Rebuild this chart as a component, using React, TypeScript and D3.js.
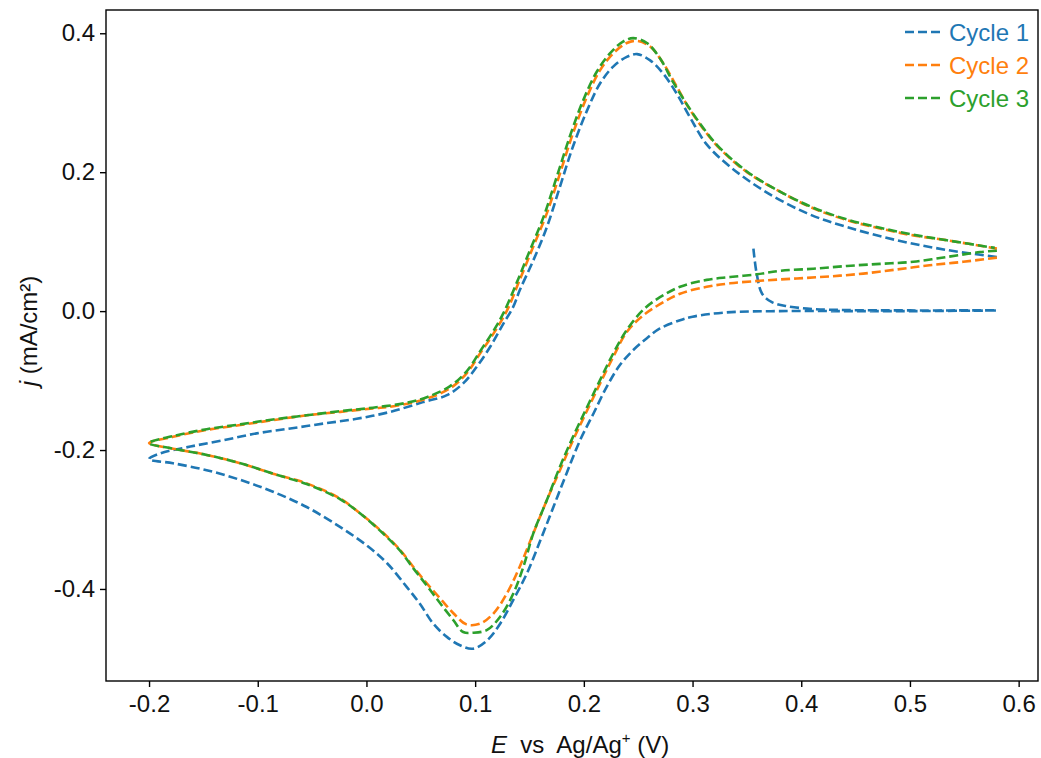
import React, { useEffect, useRef } from "react";
import * as d3 from "d3";

// cyclic voltammogram, values: [E (V), j (mA/cm2)]
const cycle1: [number, number][] = [
  [0.356, 0.09], [0.359, 0.054], [0.364, 0.025], [0.373, 0.013], [0.387, 0.007],
  [0.411, 0.003], [0.442, 0.0015], [0.5, 0.001], [0.58, 0.001],
  [0.5, 0.0], [0.44, 0.0], [0.38, 0.0], [0.33, -0.002], [0.3, -0.008],
  [0.2885, -0.013], [0.27, -0.025], [0.258, -0.039], [0.2455, -0.056], [0.233, -0.078],
  [0.221, -0.109], [0.209, -0.147], [0.1965, -0.186], [0.184, -0.234], [0.172, -0.282],
  [0.16, -0.33], [0.1475, -0.378], [0.135, -0.416], [0.123, -0.45], [0.111, -0.474],
  [0.098, -0.486], [0.086, -0.481], [0.074, -0.469], [0.0615, -0.45], [0.049, -0.421],
  [0.037, -0.397], [0.019, -0.363], [0.0, -0.337], [-0.024, -0.311], [-0.055, -0.282],
  [-0.086, -0.26], [-0.116, -0.243], [-0.147, -0.229], [-0.178, -0.219], [-0.2, -0.213],
  [-0.19, -0.205], [-0.162, -0.195], [-0.132, -0.186], [-0.101, -0.176], [-0.07, -0.169],
  [-0.04, -0.162], [-0.009, -0.155], [0.022, -0.145], [0.052, -0.131], [0.074, -0.121],
  [0.089, -0.104], [0.1015, -0.08], [0.114, -0.051], [0.126, -0.018], [0.135, 0.006],
  [0.141, 0.03], [0.1535, 0.073], [0.166, 0.121], [0.178, 0.179], [0.19, 0.237],
  [0.203, 0.289], [0.215, 0.328], [0.227, 0.352], [0.2395, 0.366], [0.249, 0.37],
  [0.261, 0.361], [0.273, 0.342], [0.2855, 0.313], [0.298, 0.278], [0.313, 0.24],
  [0.3345, 0.208], [0.365, 0.174], [0.405, 0.141], [0.442, 0.121], [0.488, 0.102],
  [0.534, 0.088], [0.58, 0.078],
];

const cycle2: [number, number][] = [
  [0.58, 0.077], [0.549, 0.071], [0.518, 0.066], [0.488, 0.06], [0.457, 0.054],
  [0.4265, 0.05], [0.396, 0.047], [0.365, 0.044], [0.3345, 0.04], [0.313, 0.035],
  [0.2885, 0.025], [0.27, 0.01], [0.2547, -0.006], [0.2395, -0.03], [0.227, -0.066],
  [0.215, -0.104], [0.203, -0.143], [0.19, -0.186], [0.178, -0.229], [0.166, -0.272],
  [0.1535, -0.32], [0.141, -0.368], [0.129, -0.407], [0.117, -0.435], [0.1045, -0.45],
  [0.092, -0.451], [0.08, -0.435], [0.068, -0.414], [0.0555, -0.392], [0.043, -0.368],
  [0.031, -0.344], [0.0125, -0.315], [-0.006, -0.291], [-0.024, -0.27], [-0.055, -0.248],
  [-0.086, -0.234], [-0.116, -0.219], [-0.147, -0.207], [-0.178, -0.198], [-0.2, -0.19],
  [-0.178, -0.181], [-0.147, -0.171], [-0.116, -0.164], [-0.086, -0.157], [-0.055, -0.15],
  [-0.024, -0.145], [0.006, -0.14], [0.025, -0.137], [0.0555, -0.126], [0.077, -0.111],
  [0.092, -0.09], [0.1045, -0.061], [0.117, -0.032], [0.129, 0.0], [0.141, 0.045],
  [0.1535, 0.093], [0.166, 0.141], [0.178, 0.198], [0.19, 0.256], [0.203, 0.309],
  [0.215, 0.347], [0.227, 0.371], [0.2395, 0.386], [0.249, 0.389], [0.261, 0.381],
  [0.273, 0.357], [0.2855, 0.323], [0.298, 0.289], [0.313, 0.256], [0.325, 0.234],
  [0.35, 0.2], [0.3805, 0.172], [0.411, 0.148], [0.442, 0.131], [0.4725, 0.119],
  [0.503, 0.109], [0.534, 0.102], [0.58, 0.09],
];

const cycle3: [number, number][] = [
  [0.58, 0.087], [0.5645, 0.085], [0.534, 0.078], [0.503, 0.071], [0.4725, 0.068],
  [0.442, 0.065], [0.411, 0.061], [0.3805, 0.058], [0.359, 0.053], [0.3345, 0.049],
  [0.313, 0.045], [0.2885, 0.035], [0.27, 0.02], [0.2547, 0.002], [0.2395, -0.027],
  [0.227, -0.061], [0.215, -0.099], [0.203, -0.138], [0.19, -0.181], [0.178, -0.224],
  [0.166, -0.272], [0.1535, -0.32], [0.1444, -0.368], [0.135, -0.407], [0.123, -0.44],
  [0.111, -0.459], [0.098, -0.463], [0.089, -0.462], [0.08, -0.445], [0.068, -0.421],
  [0.0555, -0.395], [0.043, -0.37], [0.031, -0.345], [0.0125, -0.316], [-0.006, -0.291],
  [-0.024, -0.271], [-0.055, -0.249], [-0.086, -0.234], [-0.116, -0.219], [-0.147, -0.207],
  [-0.178, -0.198], [-0.2, -0.19],
  [-0.178, -0.18], [-0.147, -0.17], [-0.116, -0.163], [-0.086, -0.156], [-0.055, -0.15],
  [-0.024, -0.144], [0.006, -0.139], [0.037, -0.132], [0.0555, -0.124], [0.077, -0.108],
  [0.092, -0.087], [0.1045, -0.058], [0.117, -0.028], [0.126, -0.003], [0.138, 0.04],
  [0.1505, 0.088], [0.163, 0.136], [0.175, 0.193], [0.187, 0.251], [0.1995, 0.304],
  [0.212, 0.345], [0.224, 0.371], [0.236, 0.388], [0.2455, 0.393], [0.258, 0.386],
  [0.27, 0.364], [0.282, 0.33], [0.298, 0.29], [0.313, 0.257], [0.325, 0.235],
  [0.35, 0.201], [0.3805, 0.172], [0.411, 0.149], [0.442, 0.132], [0.4725, 0.12],
  [0.503, 0.11], [0.534, 0.102], [0.578, 0.091],
];

const seriesNames = ["Cycle 1", "Cycle 2", "Cycle 3"];
const seriesColors = ["#1f77b4", "#ff7f0e", "#2ca02c"];
const xTicks = [-0.2, -0.1, 0.0, 0.1, 0.2, 0.3, 0.4, 0.5, 0.6];
const yTicks = [-0.4, -0.2, 0.0, 0.2, 0.4];

const W = 1041;
const H = 758;
const FONT = "'Liberation Sans', Arial, sans-serif";

export default function App() {
  const xAxisRef = useRef<SVGGElement>(null);
  const yAxisRef = useRef<SVGGElement>(null);

  const left = 106, right = 1038, top = 10, bottom = 681;
  const x = d3.scaleLinear().domain([-0.2396, 0.6178]).range([left, right]);
  const y = d3.scaleLinear().domain([-0.5325, 0.4335]).range([bottom, top]);

  const line = d3
    .line<[number, number]>()
    .x((d) => x(d[0]))
    .y((d) => y(d[1]))
    .curve(d3.curveCatmullRom.alpha(0.5));

  const cycles = [cycle1, cycle2, cycle3];

  useEffect(() => {
    const fmt = (d: d3.NumberValue) => (+d).toFixed(1);
    const gx = d3.select(xAxisRef.current!);
    gx.call(d3.axisBottom(x).tickValues(xTicks).tickFormat(fmt).tickSize(6).tickPadding(8));
    const gy = d3.select(yAxisRef.current!);
    gy.call(d3.axisLeft(y).tickValues(yTicks).tickFormat(fmt).tickSize(6).tickPadding(5));
    [gx, gy].forEach((g) => {
      g.select(".domain").remove();
      g.selectAll(".tick line").attr("stroke", "#000").attr("stroke-width", 1.4);
      g.selectAll(".tick text")
        .attr("fill", "#111")
        .attr("font-size", 24)
        .attr("font-family", FONT);
    });
  }, []);

  return (
    <svg width={W} height={H} style={{ position: "absolute", left: 0, top: 0, background: "#fff" }}>
      <g>
        {cycles.map((c, i) => (
          <path
            key={i}
            d={line(c) || ""}
            fill="none"
            stroke={seriesColors[i]}
            strokeWidth={2.6}
            strokeDasharray="9,4"
          />
        ))}
      </g>
      <rect x={left} y={top} width={right - left} height={bottom - top} fill="none" stroke="#000" strokeWidth={1.4} />
      <g ref={xAxisRef} transform={`translate(0,${bottom})`} />
      <g ref={yAxisRef} transform={`translate(${left},0)`} />

      {/* legend */}
      <g fontFamily={FONT} fontSize={24}>
        {seriesNames.map((n, i) => (
          <g key={n} transform={`translate(0,${32 + i * 33})`}>
            <line x1={905} x2={941} y1={0} y2={0} stroke={seriesColors[i]} strokeWidth={2.6} strokeDasharray="9,4" />
            <text x={949} y={8.5} fill={seriesColors[i]}>{n}</text>
          </g>
        ))}
      </g>

      {/* axis labels */}
      <text x={491} y={753} fontFamily={FONT} fontSize={24} fill="#111" style={{ whiteSpace: "pre" }}>
        <tspan fontStyle="italic">E</tspan>
        <tspan>{"  vs  Ag/Ag"}</tspan>
        <tspan fontSize={15} dy={-10}>+</tspan>
        <tspan dy={10}>{" (V)"}</tspan>
      </text>
      <text
        transform="translate(37,331) rotate(-90)"
        textAnchor="middle"
        fontFamily={FONT}
        fontSize={24}
        fill="#111"
        style={{ whiteSpace: "pre" }}
      >
        <tspan fontStyle="italic">j</tspan>
        <tspan>{" (mA/cm²)"}</tspan>
      </text>
    </svg>
  );
}
